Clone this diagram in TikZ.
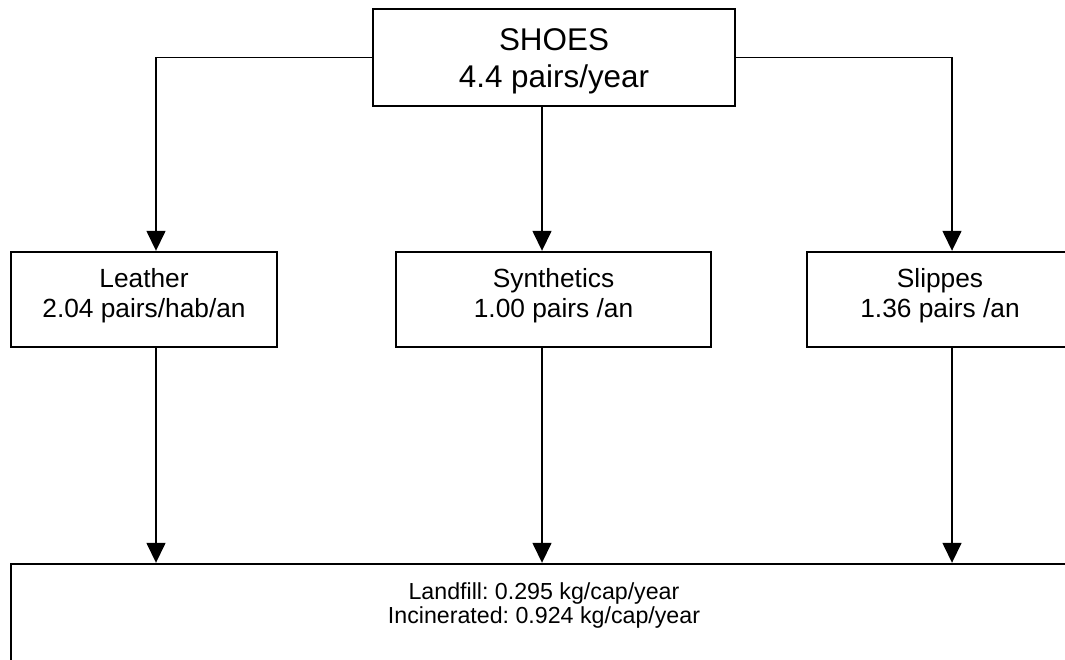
\documentclass[tikz,border=0pt]{standalone}
\usepackage{fontspec}
\setmainfont{Liberation Sans}
\frenchspacing
\usetikzlibrary{arrows.meta}
% struts that nudge the two-line labels inside their boxes
\newcommand\padbelow[1]{\rule[-#1]{0pt}{0pt}}
\newcommand\padabove[1]{\rule{0pt}{#1}}
\begin{document}
\begin{tikzpicture}[x=1pt,y=-1pt,
  box/.style={draw, line width=2.4pt, rectangle, inner sep=0pt, align=center},
  topbox/.style={box, font=\fontsize{31.4}{37}\selectfont},
  midbox/.style={box, font=\fontsize{26.3}{30}\selectfont, minimum height=95pt},
  wastebox/.style={box, minimum width=1066pt, minimum height=140pt},
  smalltext/.style={inner sep=0pt, align=center, font=\fontsize{23.2}{24}\selectfont},
  flow/.style={line width=1.5pt, -{Triangle[width=19pt,length=20pt]}}]
\useasboundingbox (0,0) rectangle (1065,659);
\clip (0,0) rectangle (1065,659);

% top category
\node[topbox, minimum width=362pt, minimum height=97pt] (shoes) at (554,57.5)
  {\padabove{29pt}SHOES\\4.4 pairs/year};

% three shoe types
\node[midbox, minimum width=266pt] (leather) at (144,299.5)
  {Leather\\2.04 pairs/hab/an\padbelow{14pt}};
\node[midbox, minimum width=315pt] (synth) at (553.5,299.5)
  {Synthetics\\1.00 pairs /an\padbelow{14pt}};
\node[midbox, minimum width=266pt] (slip) at (940,299.5)
  {Slippes\\1.36 pairs /an\padbelow{14pt}};

% end of life
\node[wastebox] (waste) at (544,634) {};
\node[smalltext] (wastetext) at (544,605)
  {Landfill: 0.295 kg/cap/year\\Incinerated: 0.924 kg/cap/year};

% split from the top box
\coordinate (lin) at ([xshift=12pt]leather.north);
\coordinate (sin) at ([xshift=-11.5pt]synth.north);
\coordinate (pin) at ([xshift=12pt]slip.north);
\draw[flow] (shoes.west) -| (lin);
\draw[flow] (shoes.south -| sin) -- (sin);
\draw[flow] (shoes.east) -| (pin);

% flows into the end-of-life box
\coordinate (lout) at ([xshift=12pt]leather.south);
\coordinate (sout) at ([xshift=-11.5pt]synth.south);
\coordinate (pout) at ([xshift=12pt]slip.south);
\draw[flow] (lout) -- (lout |- waste.north);
\draw[flow] (sout) -- (sout |- waste.north);
\draw[flow] (pout) -- (pout |- waste.north);
\end{tikzpicture}
\end{document}
